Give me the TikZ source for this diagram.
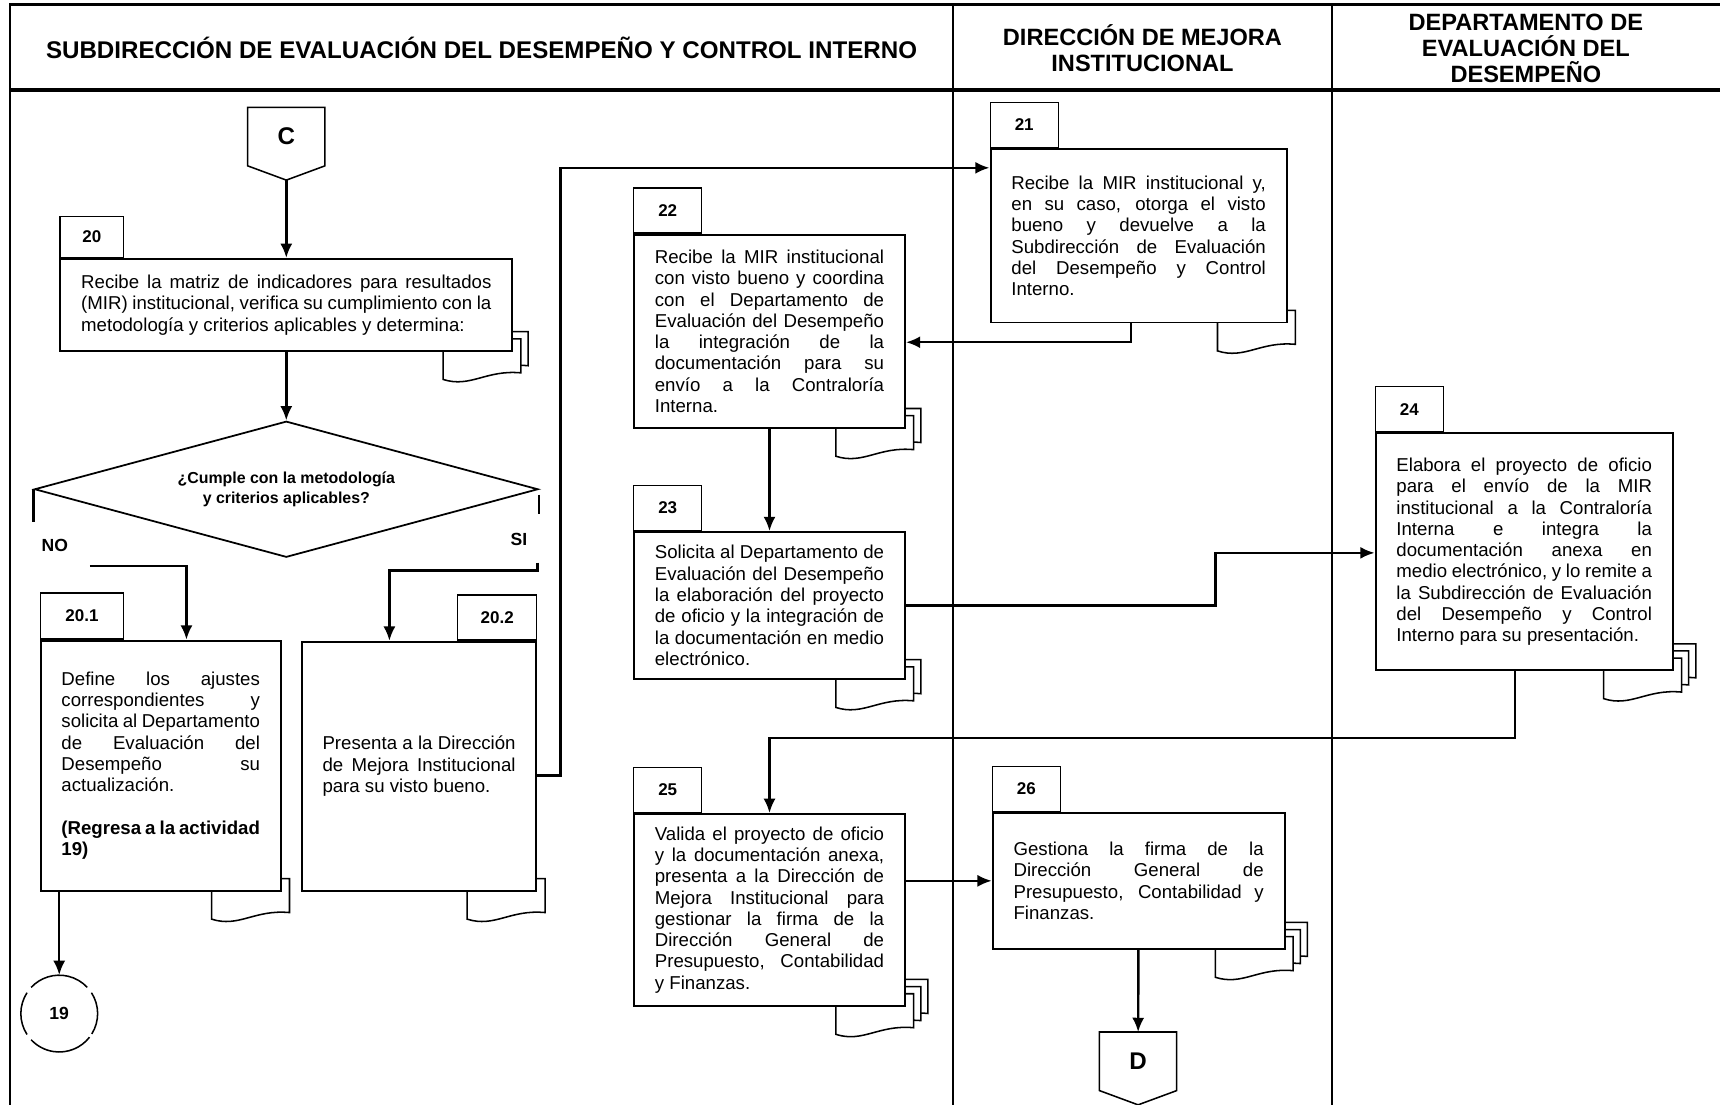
\documentclass[tikz,border=0pt]{standalone}
\usepackage{fontspec}
\setmainfont{Liberation Sans}
\usetikzlibrary{arrows.meta,shapes.geometric,calc,backgrounds}
\hbadness=10000

\tikzset{
	caja/.style={draw, fill=white, line width=1.8pt, inner xsep=19pt, inner ysep=4pt, align=justify, font=\fontsize{17}{19.4}\selectfont},
	numero/.style={draw, fill=white, line width=1.2pt, minimum width=62pt, minimum height=41pt, inner sep=0pt, font=\fontsize{15.5}{18}\selectfont\bfseries},
	conector/.style={minimum width=70pt, minimum height=53pt, inner sep=0pt, font=\fontsize{22}{26}\selectfont\bfseries},
	decision/.style={diamond, draw, line width=1.6pt, minimum width=459pt, minimum height=124pt, aspect=3.7, inner sep=0pt, align=center, font=\fontsize{14.5}{17.7}\selectfont\bfseries},
	rama/.style={font=\fontsize{16}{19}\selectfont\bfseries},
	titulo/.style={align=center, font=\fontsize{21.5}{24}\selectfont\bfseries},
	doc/.style={draw, fill=white, line width=1.4pt},
	flecha/.style={-{Latex[length=13pt,width=11pt]}, line width=2.2pt},
	linea/.style={line width=2.2pt}
}

% pila de documentos detras de una caja
\newcommand{\docs}[2]{%
	\foreach \k in {#2,...,1}{%
		\begin{scope}[shift={(#1.south east)}, shift={({6.5*(\k-1)},{-6.5*(\k-1)})}]
			\draw[doc] (-64,-12) -- (7,-12) -- (7,19) .. controls (-25,16) and (-39,33) .. (-64,25) -- cycle;
		\end{scope}}}

\begin{document}
\begin{tikzpicture}[x=1pt, y=-1pt]
	\useasboundingbox (0,0) rectangle (1568,1007);
	%frame
	\draw[linea] (9,1007) -- (9,4) -- (1568,4);
	\draw[line width=3pt] (9,82) -- (1568,82);
	\draw[line width=1.6pt] (869,4) -- (869,1007) (1214,4) -- (1214,1007);
	\node[titulo, font=\fontsize{22}{24}\selectfont\bfseries] (tit1) at (439,44) {SUBDIRECCIÓN DE EVALUACIÓN DEL DESEMPEÑO Y CONTROL INTERNO};
	\node[titulo] (tit2) at (1041.5,44) {DIRECCIÓN DE MEJORA\\INSTITUCIONAL};
	\node[titulo] (tit3) at (1391,44) {DEPARTAMENTO DE\\EVALUACIÓN DEL\\DESEMPEÑO};
	%connectors
	\node[conector] (C) at (261,124.5) {C};
	\node[conector] (D) at (1037.5,967.5) {D};
	\foreach \n in {C,D}
		\draw[line width=1.4pt] (\n.north west) -- (\n.north east) -- (\n.south east) -- ($(\n.south)+(0,13)$) coordinate (\n-punta) -- (\n.south west) -- cycle;
	\node[circle, minimum size=70pt, rama] (c19) at (54,924) {19};
	\foreach \a/\b in {38/137, 147/213, 223/317, 327/392}
		\draw[line width=1.4pt] (c19.center) ++(\a:35) arc[start angle=\a, end angle=\b, radius=35];
	%activities
	\node[caja, text width=374pt, minimum height=84pt] (b20) at (261,278) {Recibe la matriz de indicadores para resultados\linebreak (MIR) institucional, verifica su cumplimiento con la\linebreak metodología y criterios aplicables y determina:};
	\node[decision] (dec) at (261,446) {¿Cumple con la metodología\\y criterios aplicables?};
	\node[caja, text width=181pt, minimum height=228pt] (b201) at (146.5,698) {Define los ajustes\linebreak correspondientes y\linebreak solicita al Departamento\linebreak de Evaluación del\linebreak Desempeño su\linebreak actualización.\par\vspace{19.4pt}\textbf{(Regresa a la actividad\linebreak 19)}};
	\node[caja, text width=176pt, minimum height=227pt] (b202) at (382,698.5) {Presenta a la Dirección\linebreak de Mejora Institucional\linebreak para su visto bueno.};
	\node[caja, text width=232pt, minimum height=158pt] (b21) at (1038,215) {Recibe la MIR institucional y,\linebreak en su caso, otorga el visto\linebreak bueno y devuelve a la\linebreak Subdirección de Evaluación\linebreak del Desempeño y Control\linebreak Interno.};
	\node[caja, text width=209pt, minimum height=176pt] (b22) at (701.5,302) {Recibe la MIR institucional\linebreak con visto bueno y coordina\linebreak con el Departamento de\linebreak Evaluación del Desempeño\linebreak la integración de la\linebreak documentación para su\linebreak envío a la Contraloría\linebreak Interna.};
	\node[caja, text width=209pt, minimum height=134pt] (b23) at (701.5,552) {Solicita al Departamento de\linebreak Evaluación del Desempeño\linebreak la elaboración del proyecto\linebreak de oficio y la integración de\linebreak la documentación en medio\linebreak electrónico.};
	\node[caja, text width=233pt, minimum height=216pt] (b24) at (1389.5,503) {Elabora el proyecto de oficio\linebreak para el envío de la MIR\linebreak institucional a la Contraloría\linebreak Interna e integra la\linebreak documentación anexa en\linebreak medio electrónico, y lo remite a\linebreak la Subdirección de Evaluación\linebreak del Desempeño y Control\linebreak Interno para su presentación.};
	\node[caja, text width=209pt, minimum height=175pt] (b25) at (701.5,829.5) {Valida el proyecto de oficio\linebreak y la documentación anexa,\linebreak presenta a la Dirección de\linebreak Mejora Institucional para\linebreak gestionar la firma de la\linebreak Dirección General de\linebreak Presupuesto, Contabilidad\linebreak y Finanzas.};
	\node[caja, text width=228pt, minimum height=124pt] (b26) at (1038,803) {Gestiona la firma de la\linebreak Dirección General de\linebreak Presupuesto, Contabilidad y\linebreak Finanzas.};
	%numbers
	\node[numero, minimum width=58pt, minimum height=37pt, anchor=south west] (t20) at (b20.north west) {20};
	\node[numero, minimum width=76pt, minimum height=42pt, anchor=south west] (t201) at (b201.north west) {20.1};
	\node[numero, minimum width=72pt, anchor=south east] (t202) at (b202.north east) {20.2};
	\foreach \n in {21,22,23,24,25,26}
		\node[numero, anchor=south west] (t\n) at (b\n.north west) {\n};
	%documents
	\begin{pgfonlayer}{background}
		\docs{b20}{2} \docs{b201}{1} \docs{b202}{1}
		\docs{b21}{1} \docs{b22}{2} \docs{b23}{2}
		\docs{b24}{3} \docs{b25}{3} \docs{b26}{3}
	\end{pgfonlayer}
	%arrows
	\draw[flecha] (C-punta) -- (b20);
	\draw[flecha] (b20) -- (dec);
	\draw[linea] (dec.west) -- ++(0,29.5);
	\node[rama] (no) at (50,497.5) {NO};
	\coordinate (no1) at (82,516);
	\coordinate (no2) at (170,516);
	\draw[flecha] (no1) -- (no2) -- (no2 |- b201.north);
	\draw[linea] ([yshift=-5pt]dec.east) -- ++(0,18);
	\node[rama] (si) at (473,491.5) {SI};
	\coordinate (si1) at (490,513);
	\coordinate (si2) at (355,520);
	\draw[flecha] (si1) |- (si2) -- (si2 |- b202.north);
	\draw[flecha] (c19 |- b201.south) -- (c19);
	\coordinate (v1) at (511,153);
	\draw[flecha] ([yshift=-8.5pt]b202.east) -| (v1) -- (v1 -| b21.west);
	\coordinate (v2) at (1031,312);
	\draw[flecha] (v2 |- b21.south) -- (v2) -- (v2 -| b22.east);
	\draw[flecha] (b22) -- (b23);
	\coordinate (v3) at (1108,504);
	\draw[flecha] (b23.east) -| (v3) -- (v3 -| b24.west);
	\coordinate (v4) at (1381,673);
	\draw[flecha] (v4 |- b24.south) -- (v4) -| (b25.north);
	\draw[flecha] (b25.east |- b26.west) -- (b26.west);
	\draw[flecha] (b26) -- (D);
\end{tikzpicture}
\end{document}
